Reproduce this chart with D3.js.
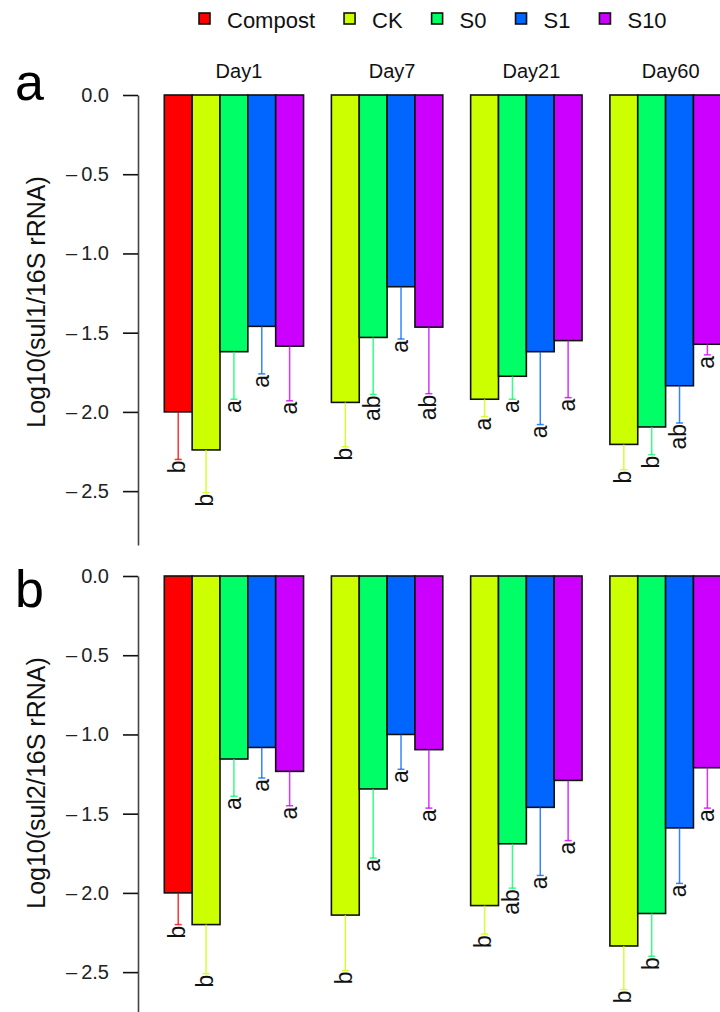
<!DOCTYPE html>
<html>
<head>
<meta charset="utf-8">
<script src="https://cdn.jsdelivr.net/npm/d3@7"></script>
<style>
  body { margin: 0; background: #fff; }
  svg { display: block; font-family: "Liberation Sans", Arial, sans-serif; }
</style>
</head>
<body>
<div id="chart"></div>
<script>

// 1. Data (log10 ratios)

const days = ["Day1", "Day7", "Day21", "Day60"];
const treatments = ["Compost", "CK", "S0", "S1", "S10"];
const palette = ["#FF0000", "#CCFF00", "#00FF66", "#0066FF", "#CC00FF"];

// which treatments appear on each day
const dayTreatments = [
    ["Compost", "CK", "S0", "S1", "S10"],
    ["CK", "S0", "S1", "S10"],
    ["CK", "S0", "S1", "S10"],
    ["CK", "S0", "S1", "S10"]
];

// sul1 / 16S rRNA
const sul1Means = [
    [-2.00, -2.24, -1.62, -1.46, -1.585],
    [-1.94, -1.53, -1.21, -1.465],
    [-1.92, -1.775, -1.62, -1.55],
    [-2.205, -2.095, -1.835, -1.573]
];
const sul1Errors = [
    [0.30, 0.27, 0.30, 0.30, 0.345],
    [0.28, 0.36, 0.33, 0.42],
    [0.11, 0.145, 0.46, 0.36],
    [0.16, 0.175, 0.235, 0.067]
];
const sul1Letters = [
    ["b", "b", "a", "a", "a"],
    ["b", "ab", "a", "ab"],
    ["a", "a", "a", "a"],
    ["b", "b", "ab", "a"]
];

// sul2 / 16S rRNA
const sul2Means = [
    [-2.00, -2.20, -1.155, -1.082, -1.233],
    [-2.14, -1.344, -1.00, -1.096],
    [-2.08, -1.69, -1.46, -1.29],
    [-2.335, -2.13, -1.59, -1.21]
];
const sul2Errors = [
    [0.20, 0.31, 0.235, 0.193, 0.217],
    [0.35, 0.436, 0.22, 0.369],
    [0.18, 0.28, 0.43, 0.38],
    [0.275, 0.27, 0.35, 0.255]
];
const sul2Letters = [
    ["b", "b", "a", "a", "a"],
    ["b", "a", "a", "a"],
    ["b", "ab", "a", "a"],
    ["b", "b", "a", "a"]
];

const yTicks = [0, -0.5, -1, -1.5, -2, -2.5];
const yDomain = [-2.84, 0];

// 2. Dimensions

const dimensions = {
    width: 720,
    height: 1012,
    axisX: 138,
    barsLeft: 164.3,
    slotWidth: 27.85,
    panelHeight: 450,
}

const panels = [
    {letter: "a", title: "Log10(sul1/16S rRNA)", top: 95, letterY: 100,
     means: sul1Means, errors: sul1Errors, letters: sul1Letters, dayLabels: true},
    {letter: "b", title: "Log10(sul2/16S rRNA)", top: 576, letterY: 607,
     means: sul2Means, errors: sul2Errors, letters: sul2Letters, dayLabels: false},
]

// 3. Canvas

const svg = d3.select("#chart")
    .append("svg")
        .attr("width", dimensions.width)
        .attr("height", dimensions.height)

const colorScale = d3.scaleOrdinal()
    .domain(treatments)
    .range(palette)

// slot index of each bar: groups are contiguous with one empty slot between them
const slots = []
let cursor = 0
dayTreatments.forEach((list, gi) => {
    slots.push(list.map((t, i) => cursor + i))
    cursor += list.length + 1
})
const totalSlots = cursor - 1

const xScale = d3.scaleLinear()
    .domain([0, totalSlots])
    .range([dimensions.barsLeft, dimensions.barsLeft + totalSlots * dimensions.slotWidth])

// R style tick labels: long minus with a little gap
const fmt = d3.format(".1f")
const tickFormat = d => d < 0 ? "\u2013\u2009" + fmt(-d) : fmt(d)

// 4. Legend

const legend = svg.append("g")
let lx = 199
treatments.forEach(t => {
    legend.append("rect")
        .attr("x", lx)
        .attr("y", 13)
        .attr("width", 11)
        .attr("height", 11)
        .attr("fill", colorScale(t))
        .attr("stroke", "#111")
        .attr("stroke-width", 1.6)
    const label = legend.append("text")
        .attr("x", lx + 28)
        .attr("y", 28)
        .attr("font-size", 22)
        .attr("fill", "#111")
        .text(t)
    lx = lx + 28 + label.node().getComputedTextLength() + 29
})

// 5. Panels

panels.forEach(panel => {

    const yScale = d3.scaleLinear()
        .domain([0, yDomain[0]])
        .range([panel.top, panel.top + dimensions.panelHeight])

    const g = svg.append("g")

    // panel letter
    g.append("text")
        .attr("x", 15)
        .attr("y", panel.letterY)
        .attr("font-size", 52)
        .attr("fill", "#000")
        .text(panel.letter)

    // y axis title
    g.append("text")
        .attr("transform", `translate(45, ${panel.top + 207}) rotate(-90)`)
        .attr("text-anchor", "middle")
        .attr("font-size", 25)
        .attr("fill", "#111")
        .text(panel.title)

    // y axis
    const yAxis = d3.axisLeft(yScale)
        .tickValues(yTicks)
        .tickFormat(tickFormat)
        .tickSize(15)
        .tickPadding(14)
        .tickSizeOuter(0)

    const axisG = g.append("g")
        .attr("transform", `translate(${dimensions.axisX}, 0)`)
        .call(yAxis)
    axisG.select(".domain")
        .attr("stroke", "#444")
        .attr("stroke-width", 1.6)
    axisG.selectAll(".tick line")
        .attr("stroke", "#111")
        .attr("stroke-width", 1.6)
    axisG.selectAll(".tick text")
        .attr("font-size", 20)
        .attr("font-family", "\"Liberation Sans\", Arial, sans-serif")
        .attr("fill", "#222")

    // bars
    const bars = []
    dayTreatments.forEach((list, gi) => {
        list.forEach((t, i) => {
            bars.push({
                day: days[gi],
                treatment: t,
                slot: slots[gi][i],
                mean: panel.means[gi][i],
                err: panel.errors[gi][i],
                letter: panel.letters[gi][i],
            })
        })
    })

    g.append("g")
        .selectAll("rect")
        .data(bars)
        .join("rect")
            .attr("x", d => xScale(d.slot))
            .attr("y", yScale(0))
            .attr("width", d => xScale(d.slot + 1) - xScale(d.slot))
            .attr("height", d => yScale(d.mean) - yScale(0))
            .attr("fill", d => colorScale(d.treatment))
            .attr("stroke", "#111")
            .attr("stroke-width", 1.6)

    // error bars (downward only)
    const errG = g.append("g")
        .selectAll("g")
        .data(bars)
        .join("g")
            .attr("stroke", d => colorScale(d.treatment))
            .attr("stroke-opacity", 0.8)
            .attr("stroke-width", 1.5)

    errG.append("line")
        .attr("x1", d => xScale(d.slot + 0.5))
        .attr("x2", d => xScale(d.slot + 0.5))
        .attr("y1", d => yScale(d.mean))
        .attr("y2", d => yScale(d.mean - d.err))

    errG.append("line")
        .attr("x1", d => xScale(d.slot + 0.5) - 3.5)
        .attr("x2", d => xScale(d.slot + 0.5) + 3.5)
        .attr("y1", d => yScale(d.mean - d.err))
        .attr("y2", d => yScale(d.mean - d.err))

    // significance letters, rotated
    g.append("g")
        .selectAll("text")
        .data(bars)
        .join("text")
            .attr("transform", d => `translate(${xScale(d.slot + 0.5)}, ${yScale(d.mean - d.err)}) rotate(-90)`)
            .attr("text-anchor", "end")
            .attr("dx", -1)
            .attr("dy", "0.3em")
            .attr("font-size", 23)
            .attr("fill", "#111")
            .text(d => d.letter)

    // day labels
    if (panel.dayLabels) {
        g.append("g")
            .selectAll("text")
            .data(days)
            .join("text")
                .attr("x", (d, gi) => (xScale(slots[gi][0]) + xScale(slots[gi][slots[gi].length - 1] + 1)) / 2 + 5)
                .attr("y", 78)
                .attr("text-anchor", "middle")
                .attr("font-size", 20)
                .attr("fill", "#111")
                .text(d => d)
    }
})

</script>
</body>
</html>
